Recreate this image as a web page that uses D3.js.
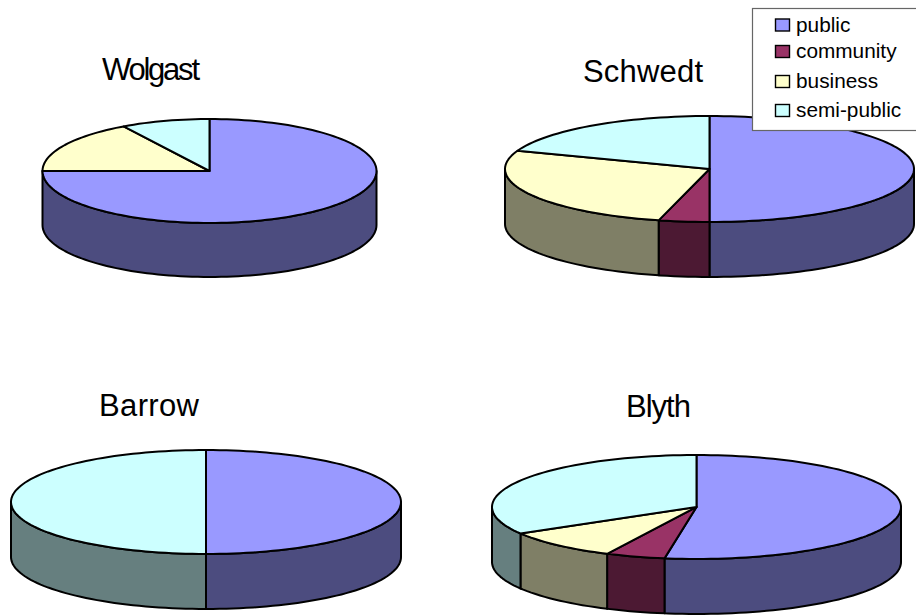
<!DOCTYPE html>
<html>
<head>
<meta charset="utf-8">
<script src="https://cdn.jsdelivr.net/npm/d3@7"></script>
<style>
html, body { margin: 0; padding: 0; background: #fff; }
svg { display: block; font-family: "Liberation Sans", Arial, sans-serif; }
</style>
</head>
<body>
<svg id="chart" width="916" height="615"></svg>
<script>
// Shares per town, in the order the slices run clockwise from twelve o'clock.
const categories = ["public", "community", "business", "semi-public"];
const wolgast = [75, 0, 16.4, 8.6];
const schwedt = [50, 4, 26.6, 19.4];
const barrow = [50, 0, 0, 50];
const blyth = [52.5, 4.7, 9.3, 33.5];

const topColors = ["#9999ff", "#993366", "#ffffcc", "#ccffff"];
const sideColors = ["#4c4c7f", "#4c1933", "#7f7f66", "#667f7f"];

// Placement of each disc on the page: centre, radii, wall height, title start, baseline and width.
const panels = [
  { name: "Wolgast", values: wolgast, cx: 209.5, cy: 171, rx: 167, ry: 52, depth: 54, tx: 102, ty: 80, tw: 98 },
  { name: "Schwedt", values: schwedt, cx: 709.5, cy: 169, rx: 204.5, ry: 53, depth: 55, tx: 583, ty: 82, tw: 120 },
  { name: "Barrow", values: barrow, cx: 206, cy: 502, rx: 195, ry: 52, depth: 55, tx: 99, ty: 416, tw: 100 },
  { name: "Blyth", values: blyth, cx: 696.5, cy: 507, rx: 204.5, ry: 52, depth: 55, tx: 626, ty: 417, tw: 65 }
];

const legendRows = [25, 51.5, 81.5, 110.5];

const svg = d3.select("#chart");
const pie = d3.pie().sort(null).value(d => d);
const outline = d3.line().curve(d3.curveLinearClosed);
const STEP = Math.PI / 90;

function arcAngles(a0, a1) {
  const out = d3.range(a0, a1, STEP);
  out.push(a1);
  return out;
}

panels.forEach(p => {
  const sx = d3.scaleLinear().domain([-1, 1]).range([p.cx - p.rx, p.cx + p.rx]);
  const sy = d3.scaleLinear().domain([-1, 1]).range([p.cy - p.ry, p.cy + p.ry]);
  const rim = a => [sx(Math.sin(a)), sy(-Math.cos(a))];
  const slices = pie(p.values).map((s, i) => ({ ...s, i })).filter(s => s.value > 0);
  const g = svg.append("g").attr("class", "pie").attr("data-town", p.name);

  // Wall: only the part of each slice facing the viewer, the lower half of the ellipse.
  const front = slices
    .map(s => ({
      i: s.i,
      a0: Math.max(s.startAngle, Math.PI / 2),
      a1: Math.min(s.endAngle, Math.PI * 1.5)
    }))
    .filter(s => s.a1 > s.a0);

  g.selectAll("path.side")
    .data(front)
    .join("path")
    .attr("class", "side")
    .attr("fill", d => sideColors[d.i])
    .attr("stroke", "#000")
    .attr("stroke-width", 2)
    .attr("stroke-linejoin", "round")
    .attr("d", d => {
      const upper = arcAngles(d.a0, d.a1).map(rim);
      const lower = upper.map(([x, y]) => [x, y + p.depth]).reverse();
      return outline(upper.concat(lower));
    });

  // Top face.
  g.selectAll("path.top")
    .data(slices)
    .join("path")
    .attr("class", "top")
    .attr("fill", d => topColors[d.i])
    .attr("stroke", "#000")
    .attr("stroke-width", 2)
    .attr("stroke-linejoin", "round")
    .attr("d", d => outline([[p.cx, p.cy]].concat(arcAngles(d.startAngle, d.endAngle).map(rim))));

  svg.append("text")
    .attr("x", p.tx)
    .attr("y", p.ty)
    .attr("font-size", 31)
    .attr("textLength", p.tw)
    .attr("lengthAdjust", "spacing")
    .attr("fill", "#000")
    .text(p.name);
});

// Legend box sits over the Schwedt disc and runs to the page edge.
const legend = svg.append("g").attr("class", "legend");
legend.append("rect")
  .attr("x", 752.5).attr("y", 8.5)
  .attr("width", 170).attr("height", 122)
  .attr("fill", "#fff").attr("stroke", "#666").attr("stroke-width", 1.2);

const rows = legend.selectAll("g.row")
  .data(categories)
  .join("g")
  .attr("class", "row")
  .attr("transform", (d, i) => `translate(0,${legendRows[i]})`);

rows.append("rect")
  .attr("x", 775.5).attr("y", -6)
  .attr("width", 14).attr("height", 12)
  .attr("fill", (d, i) => topColors[i])
  .attr("stroke", "#000").attr("stroke-width", 1.4);

rows.append("text")
  .attr("x", 796).attr("y", 6.5)
  .attr("font-size", 20.8)
  .attr("fill", "#000")
  .text(d => d);
</script>
</body>
</html>
